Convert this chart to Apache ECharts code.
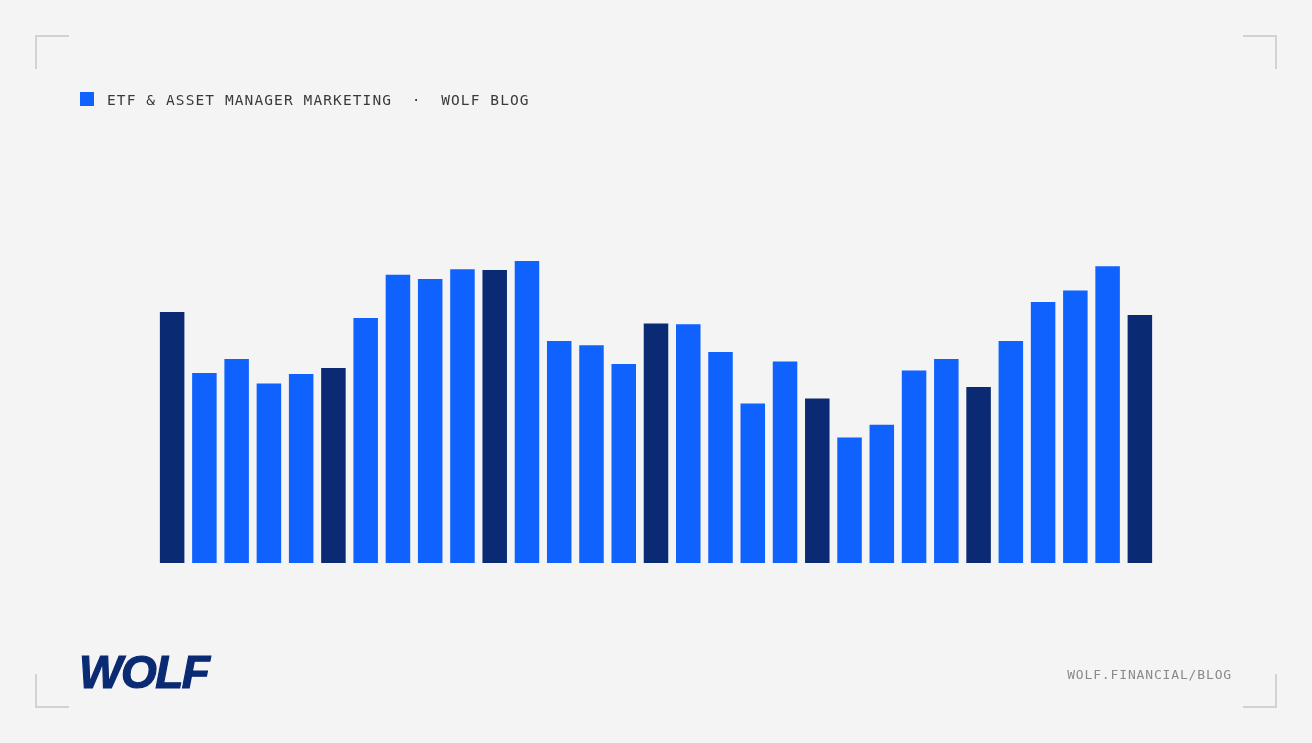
<!DOCTYPE html>
<html>
<head>
<meta charset="utf-8">
<script src="https://cdn.jsdelivr.net/npm/echarts@6/dist/echarts.min.js"></script>
<style>
  html, body { margin:0; padding:0; background:#f4f4f4; }
  #wrap { position:relative; width:1312px; height:743px; background:#f4f4f4; overflow:hidden; }
  #chart { position:absolute; left:0; top:0; width:1312px; height:743px; }
  .hdr { position:absolute; left:107px; top:93px; font-family:"DejaVu Sans Mono", monospace; font-size:14.5px; line-height:14px; letter-spacing:1.1px; color:#3a3a3a; white-space:pre; }
  .sq { position:absolute; left:80px; top:92px; width:14px; height:14px; background:#0f62fe; }
  .foot { position:absolute; right:80px; top:668px; font-family:"DejaVu Sans Mono", monospace; font-size:13px; line-height:13px; letter-spacing:0.85px; color:#8a8a8a; white-space:pre; }
  .logo { position:absolute; left:79px; top:649px; font-family:"Liberation Sans", Arial, sans-serif; font-weight:900; font-style:italic; font-size:46px; line-height:46px; letter-spacing:-1.5px; color:#0a2b73; -webkit-text-stroke:1.2px #0a2b73; }
  .c { position:absolute; border-color:#d2d2d2; border-style:solid; border-width:0; width:32px; height:32px; }
</style>
</head>
<body>
<div id="wrap">
  <div id="chart"></div>
  <div class="c" style="left:35px;top:35px;border-left-width:2px;border-top-width:2px;"></div>
  <div class="c" style="left:1243px;top:35px;border-right-width:2px;border-top-width:2px;"></div>
  <div class="c" style="left:35px;top:674px;border-left-width:2px;border-bottom-width:2px;"></div>
  <div class="c" style="left:1243px;top:674px;border-right-width:2px;border-bottom-width:2px;"></div>
  <div class="sq"></div>
  <div class="hdr">ETF &amp; ASSET MANAGER MARKETING  ·  WOLF BLOG</div>
  <div class="logo">WOLF</div>
  <div class="foot">WOLF.FINANCIAL/BLOG</div>
</div>
<script>
// Categories (periods 1..31)
const categories = ['1','2','3','4','5','6','7','8','9','10','11','12','13','14','15','16','17','18','19','20','21','22','23','24','25','26','27','28','29','30','31'];
// Series values (index units)
const values = [83.7, 63.3, 68.0, 59.8, 63.0, 65.0, 81.7, 96.1, 94.7, 97.9, 97.7, 100.7, 74.0, 72.6, 66.3, 79.8, 79.6, 70.3, 53.2, 67.2, 54.8, 41.8, 46.1, 64.2, 68.0, 58.7, 74.0, 87.0, 90.8, 98.9, 82.7];
// Highlighted (dark) categories
const highlighted = ['1','6','11','16','21','26','31'];

const BRIGHT = '#0f62fe';
const DARK = '#0a2b73';

const chart = echarts.init(document.getElementById('chart'), null, { renderer: 'canvas' });
chart.setOption({
  backgroundColor: 'transparent',
  animation: false,
  grid: { left: 156, right: 156, top: 233, bottom: 180 },
  xAxis: {
    type: 'category',
    data: categories,
    show: false,
    boundaryGap: true
  },
  yAxis: {
    type: 'value',
    min: 0,
    max: 110,
    show: false,
    splitLine: { show: false }
  },
  series: [{
    type: 'bar',
    barCategoryGap: '24%',
    data: values.map((v, i) => ({
      value: v,
      itemStyle: { color: highlighted.includes(categories[i]) ? DARK : BRIGHT }
    }))
  }]
});
</script>
</body>
</html>
